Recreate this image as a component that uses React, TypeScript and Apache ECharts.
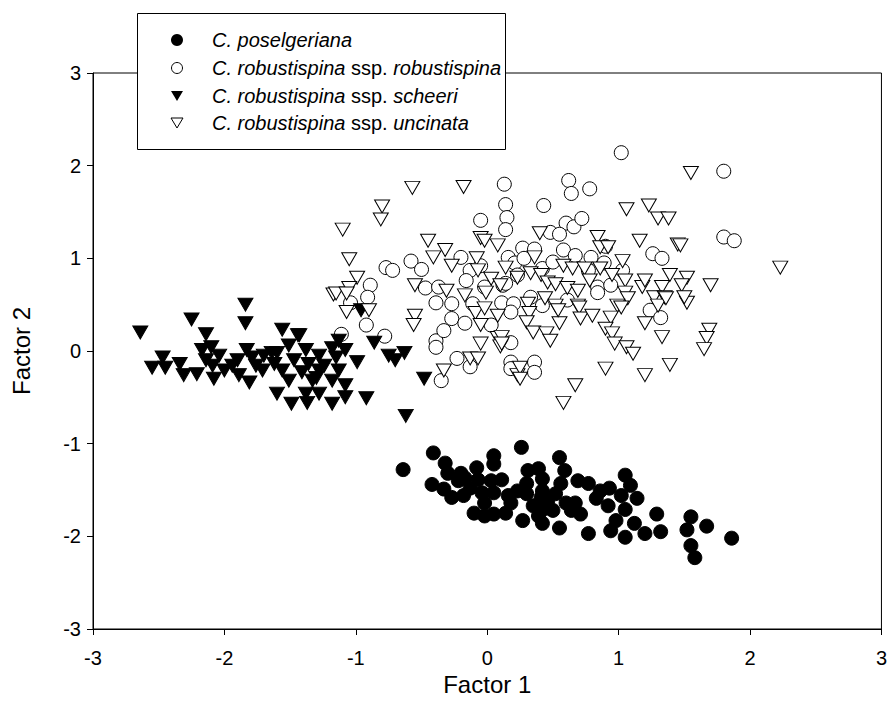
import React, { useEffect, useRef } from "react";
import * as echarts from "echarts";

const xTicks = [-3, 3, 1];
const yTicks = [-3, 3, 1];

const poselgeriana: number[][] = [
  [-0.64, -1.28], [-0.41, -1.10], [-0.32, -1.21], [-0.30, -1.32], [-0.42, -1.44], [-0.33, -1.49],
  [-0.27, -1.58], [-0.20, -1.32], [-0.17, -1.37], [-0.08, -1.26], [-0.13, -1.48], [-0.07, -1.39],
  [-0.04, -1.53], [0.05, -1.13], [0.05, -1.22], [0.03, -1.40], [0.11, -1.39], [0.05, -1.53],
  [-0.02, -1.64], [-0.10, -1.75], [-0.02, -1.78], [0.05, -1.76], [0.14, -1.75], [0.18, -1.64],
  [0.26, -1.04], [0.31, -1.29], [0.39, -1.27], [0.42, -1.38], [0.30, -1.43], [0.30, -1.54],
  [0.41, -1.58], [0.44, -1.70], [0.27, -1.83], [0.42, -1.86], [0.50, -1.72], [0.55, -1.15],
  [0.59, -1.29], [0.56, -1.43], [0.52, -1.54], [0.60, -1.64], [0.64, -1.72], [0.55, -1.91],
  [0.69, -1.40], [0.77, -1.43], [0.67, -1.64], [0.71, -1.76], [0.77, -1.97], [0.86, -1.51],
  [0.83, -1.59], [1.05, -1.34], [0.93, -1.48], [1.02, -1.56], [1.14, -1.59], [1.05, -1.71],
  [0.98, -1.83], [0.94, -1.94], [1.05, -2.01], [1.12, -1.86], [1.20, -1.97], [1.29, -1.76],
  [1.32, -1.95], [1.55, -1.79], [1.52, -1.93], [1.67, -1.89], [1.55, -2.10], [1.58, -2.23],
  [1.86, -2.02], [0.42, -1.51], [0.35, -1.67], [0.23, -1.51], [0.16, -1.56], [-0.18, -1.56],
  [-0.22, -1.40], [0.46, -1.62], [0.39, -1.78], [0.92, -1.67], [1.09, -1.45],
];

const robustispina: number[][] = [
  [0.13, 1.80], [0.14, 1.58], [0.15, 1.44], [-0.05, 1.41], [0.14, 1.31], [-0.58, 0.97],
  [-0.50, 0.88], [-0.77, 0.90], [-0.72, 0.87], [-0.20, 1.01], [-0.13, 0.87], [-0.05, 0.92],
  [0.16, 1.01], [0.21, 0.95], [-0.89, 0.71], [-0.91, 0.58], [-1.04, 0.52], [-0.47, 0.68],
  [-0.37, 0.69], [-0.16, 0.76], [-0.02, 0.69], [0.12, 0.71], [-0.39, 0.52], [-0.27, 0.51],
  [-0.11, 0.51], [0.11, 0.52], [1.02, 2.14], [0.62, 1.84], [0.64, 1.70], [0.78, 1.75],
  [0.43, 1.57], [0.60, 1.38], [0.66, 1.34], [0.72, 1.43], [0.48, 1.28], [0.55, 1.26],
  [0.27, 1.11], [0.36, 1.10], [0.58, 1.09], [0.67, 1.03], [0.79, 1.01], [0.90, 1.13],
  [0.89, 0.95], [1.26, 1.05], [1.33, 1.00], [0.28, 1.00], [0.84, 0.69], [0.94, 0.71],
  [0.14, 0.73], [0.33, 0.58], [0.20, 0.51], [1.80, 1.94], [1.80, 1.23], [1.88, 1.19],
  [-0.92, 0.28], [-1.11, 0.18], [-0.78, 0.16], [-0.39, 0.11], [-0.39, 0.04], [-0.33, 0.22],
  [-0.27, 0.35], [-0.17, 0.30], [0.18, 0.42], [0.18, 0.09], [-0.23, -0.08], [-0.13, -0.17],
  [-0.35, -0.32], [0.18, -0.12], [0.18, -0.19], [0.36, -0.12], [0.36, -0.23], [1.24, 0.44],
  [1.32, 0.36], [0.84, 0.63], [0.42, 0.89], [0.50, 0.96], [0.77, 0.87], [0.23, 0.82],
  [0.42, 0.49], [0.61, 0.55], [0.03, 0.28], [1.03, 0.87],
];

const scheeri: number[][] = [
  [-2.64, 0.20], [-2.25, 0.34], [-1.84, 0.50], [-1.84, 0.30], [-2.14, 0.18], [-1.56, 0.23],
  [-1.44, 0.17], [-2.47, -0.07], [-2.55, -0.18], [-2.45, -0.18], [-2.34, -0.14], [-2.31, -0.26],
  [-2.21, -0.25], [-2.08, -0.30], [-2.17, 0.01], [-2.10, 0.04], [-2.04, -0.05], [-2.14, -0.10],
  [-2.09, -0.16], [-1.94, -0.16], [-1.90, -0.10], [-1.83, 0.01], [-1.79, -0.07], [-1.89, -0.26],
  [-1.81, -0.34], [-1.71, -0.21], [-1.76, -0.16], [-1.64, -0.02], [-1.60, -0.02], [-1.62, -0.14],
  [-1.56, -0.21], [-1.51, -0.32], [-1.60, -0.46], [-1.49, -0.57], [-1.37, -0.56], [-1.47, -0.10],
  [-1.38, 0.01], [-1.41, -0.23], [-1.33, -0.32], [-1.36, -0.14], [-0.96, 0.44], [-1.43, 0.17],
  [-1.28, -0.05], [-1.18, 0.03], [-1.08, 0.01], [-1.15, -0.07], [-0.99, -0.12], [-1.13, -0.21],
  [-1.30, -0.29], [-1.18, -0.32], [-1.08, -0.37], [-1.38, -0.46], [-1.28, -0.46], [-1.18, -0.57],
  [-1.08, -0.50], [-0.92, -0.51], [-0.86, 0.09], [-0.75, -0.05], [-0.70, -0.10], [-0.63, -0.02],
  [-0.48, -0.30], [-0.62, -0.70], [-1.24, -0.16], [-1.13, 0.11], [-1.51, 0.06], [-1.70, -0.05],
  [-2.00, -0.21], [-1.28, -0.21],
];

const uncinata: number[][] = [
  [-0.57, 1.76], [-0.18, 1.77], [-0.80, 1.56], [-0.81, 1.42], [-1.10, 1.31], [-0.45, 1.19],
  [-0.05, 1.22], [-0.02, 1.19], [0.08, 1.14], [-1.05, 0.99], [-0.32, 1.09], [-0.41, 1.01],
  [-0.27, 0.92], [-0.08, 1.00], [-0.07, 0.87], [0.14, 0.90], [-0.99, 0.79], [-1.05, 0.68],
  [-1.17, 0.61], [-0.55, 0.71], [-0.31, 0.65], [-0.17, 0.60], [0.03, 0.78], [0.10, 0.71],
  [-0.01, 0.63], [1.55, 1.92], [1.06, 1.53], [1.23, 1.57], [1.30, 1.43], [1.38, 1.43],
  [0.40, 1.27], [0.84, 1.23], [0.86, 1.12], [0.92, 1.12], [1.16, 1.19], [1.45, 1.15],
  [1.03, 0.97], [0.36, 1.01], [0.58, 0.92], [0.65, 0.89], [0.74, 0.89], [0.86, 0.89],
  [0.23, 0.79], [0.33, 0.84], [0.41, 0.82], [0.46, 0.74], [0.52, 0.72], [0.61, 0.68],
  [0.69, 0.65], [0.78, 0.76], [0.95, 0.82], [1.05, 0.76], [1.18, 0.69], [1.20, 0.76],
  [1.39, 0.82], [1.52, 0.79], [1.33, 0.69], [1.48, 0.71], [1.05, 0.63], [1.07, 0.57],
  [1.27, 0.58], [1.35, 0.58], [1.52, 0.52], [0.44, 0.57], [0.31, 0.51], [0.69, 0.49],
  [0.99, 0.49], [0.52, 0.49], [1.47, 1.14], [2.23, 0.90], [1.70, 0.71], [1.69, 0.23],
  [1.67, 0.14], [1.65, 0.02], [-1.15, 0.62], [-1.07, 0.62], [-1.07, 0.42], [-0.90, 0.44],
  [-0.55, 0.38], [-0.56, 0.28], [-0.09, 0.41], [-0.02, 0.46], [0.08, 0.38], [-0.05, 0.28],
  [-0.05, 0.08], [0.08, 0.14], [0.10, 0.05], [-0.13, -0.08], [-0.07, -0.08], [-0.33, -0.21],
  [0.23, -0.26], [0.32, 0.41], [0.30, 0.31], [0.35, 0.20], [0.45, 0.19], [0.48, 0.11],
  [0.55, 0.30], [0.54, 0.44], [0.70, 0.47], [0.71, 0.35], [0.80, 0.38], [0.94, 0.36],
  [0.90, 0.24], [0.95, 0.19], [0.97, 0.08], [1.06, 0.04], [1.11, -0.03], [1.02, 0.47],
  [1.20, 0.30], [1.33, 0.15], [1.30, 0.49], [1.36, 0.57], [1.50, 0.58], [0.11, 0.15],
  [0.11, 0.08], [0.25, -0.18], [0.25, -0.30], [0.90, -0.19], [1.20, -0.26], [1.39, -0.15],
  [0.67, -0.37], [0.58, -0.56],
];

const legendNames = [
  "C. poselgeriana",
  "C. robustispina ssp. robustispina",
  "C. robustispina ssp. scheeri",
  "C. robustispina ssp. uncinata",
];
const legendRich = [
  "{i|C. poselgeriana}",
  "{i|C. robustispina}{n| ssp. }{i|robustispina}",
  "{i|C. robustispina}{n| ssp. }{i|scheeri}",
  "{i|C. robustispina}{n| ssp. }{i|uncinata}",
];

const FONT = "'Liberation Sans', Arial, sans-serif";

export default function App() {
  const ref = useRef<HTMLDivElement>(null);
  useEffect(() => {
    document.body.style.margin = "0";
    const chart = echarts.init(ref.current!, null, { renderer: "svg" });
    const triSize = [15, 13];
    const lx = 177;
    const rowY = [40, 68, 96, 123];
    const tri = (cx: number, cy: number, w: number, h: number) => [
      [cx - w / 2, cy - h / 2],
      [cx + w / 2, cy - h / 2],
      [cx, cy + h / 2],
    ];
    const graphic: any[] = [
      {
        type: "rect",
        z: 100,
        shape: { x: 137.5, y: 13.5, width: 368, height: 136 },
        style: { fill: "#fff", stroke: "#000", lineWidth: 1 },
      },
      { type: "circle", z: 101, shape: { cx: lx, cy: rowY[0], r: 6 }, style: { fill: "#000" } },
      {
        type: "circle",
        z: 101,
        shape: { cx: lx, cy: rowY[1], r: 5.5 },
        style: { fill: "#fff", stroke: "#000", lineWidth: 1 },
      },
      { type: "polygon", z: 101, shape: { points: tri(lx, rowY[2], 12, 10) }, style: { fill: "#000" } },
      {
        type: "polygon",
        z: 101,
        shape: { points: tri(lx, rowY[3], 12, 10) },
        style: { fill: "#fff", stroke: "#000", lineWidth: 1 },
      },
      ...legendRich.map((t, i) => ({
        type: "text",
        z: 101,
        x: 212,
        y: rowY[i],
        style: {
          text: t,
          verticalAlign: "middle",
          fill: "#000",
          fontSize: 20,
          fontFamily: FONT,
          rich: {
            i: { fontStyle: "italic", fontSize: 20, fontFamily: FONT, fill: "#000" },
            n: { fontSize: 20, fontFamily: FONT, fill: "#000" },
          },
        },
      })),
    ];
    const axisCommon = {
      type: "value",
      nameLocation: "middle",
      nameTextStyle: { fontSize: 24, fontFamily: FONT, color: "#000" },
      axisLine: { show: true, onZero: false, lineStyle: { color: "#000", width: 1 } },
      axisTick: { show: true, inside: false, length: 6, lineStyle: { color: "#000" } },
      splitLine: { show: false },
    };
    chart.setOption({
      animation: false,
      backgroundColor: "#fff",
      grid: {
        left: 93,
        top: 73,
        width: 791,
        height: 556,
        show: true,
        borderColor: "#000",
        borderWidth: 1,
        backgroundColor: "transparent",
      },
      xAxis: {
        ...axisCommon,
        min: xTicks[0],
        max: xTicks[1],
        interval: xTicks[2],
        name: "Factor 1",
        nameGap: 38,
        axisLabel: { fontSize: 20, fontFamily: FONT, color: "#000", margin: 19 },
      },
      yAxis: {
        ...axisCommon,
        min: yTicks[0],
        max: yTicks[1],
        interval: yTicks[2],
        name: "Factor 2",
        nameGap: 60,
        axisLabel: { fontSize: 20, fontFamily: FONT, color: "#000", margin: 12 },
      },
      series: [
        {
          name: legendNames[0],
          type: "scatter",
          data: poselgeriana,
          symbol: "circle",
          symbolSize: 14,
          itemStyle: { color: "#000", borderColor: "#000", borderWidth: 1, opacity: 1 },
        },
        {
          name: legendNames[1],
          type: "scatter",
          data: robustispina,
          symbol: "circle",
          symbolSize: 14,
          itemStyle: { color: "#fff", borderColor: "#000", borderWidth: 1, opacity: 1 },
        },
        {
          name: legendNames[2],
          type: "scatter",
          data: scheeri,
          symbol: "triangle",
          symbolRotate: 180,
          symbolSize: triSize,
          itemStyle: { color: "#000", borderColor: "#000", borderWidth: 1, opacity: 1 },
        },
        {
          name: legendNames[3],
          type: "scatter",
          data: uncinata,
          symbol: "triangle",
          symbolRotate: 180,
          symbolSize: triSize,
          itemStyle: { color: "#fff", borderColor: "#000", borderWidth: 1, opacity: 1 },
        },
      ],
      graphic,
    });
    return () => chart.dispose();
  }, []);
  return (
    <div
      ref={ref}
      style={{ position: "absolute", left: 0, top: 0, width: 890, height: 716 }}
    />
  );
}
